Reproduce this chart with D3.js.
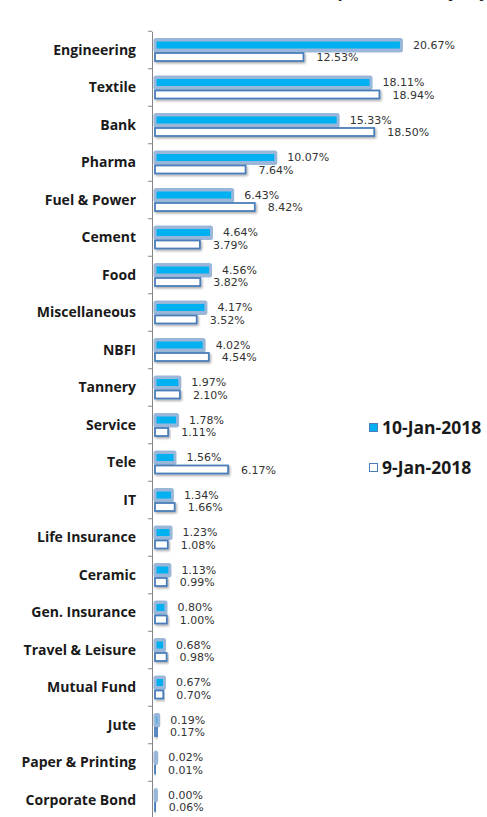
<!DOCTYPE html>
<html><head><meta charset="utf-8">
<script src="https://cdn.jsdelivr.net/npm/d3@7"></script>
<style>html,body{margin:0;padding:0;background:#fff;overflow:hidden}</style>
</head><body>
<svg id="chart" width="487" height="817"></svg>
<script>
const categories = ["Engineering","Textile","Bank","Pharma","Fuel & Power","Cement","Food","Miscellaneous","NBFI","Tannery","Service","Tele","IT","Life Insurance","Ceramic","Gen. Insurance","Travel & Leisure","Mutual Fund","Jute","Paper & Printing","Corporate Bond"];
const jan10 = [20.67,18.11,15.33,10.07,6.43,4.64,4.56,4.17,4.02,1.97,1.78,1.56,1.34,1.23,1.13,0.80,0.68,0.67,0.19,0.02,0.00];
const jan9  = [12.53,18.94,18.50,7.64,8.42,3.79,3.82,3.52,4.54,2.10,1.11,6.17,1.66,1.08,0.99,1.00,0.98,0.70,0.17,0.01,0.06];
const seriesNames = ["10-Jan-2018","9-Jan-2018"];
const title = "Sector-wise Turnover Composition (%) (y-o-y)";

const svg = d3.select("#chart");
const defs = svg.append("defs");
const f = defs.append("filter").attr("id","sh").attr("x","-10%").attr("y","-40%").attr("width","130%").attr("height","200%");
f.append("feDropShadow").attr("dx",1.2).attr("dy",1.5).attr("stdDeviation",0.9).attr("flood-color","#000").attr("flood-opacity",0.35);

const x = d3.scaleLinear().domain([0,22]).range([155,415.7]);
const y = d3.scaleBand().domain(categories).range([31.25,818.75]).padding(0);
const c = d => y(d) + y.bandwidth()/2;

// title (almost entirely above the visible area, as in the reference)
svg.append("text").attr("x",305).attr("y",-3).attr("text-anchor","middle")
  .style("font-family","'Open Sans', sans-serif").style("font-weight","bold").style("font-size","17px")
  .attr("fill","#222").text(title);

// axis
const axis = d3.axisLeft(y).tickSize(0).tickFormat("");
const gA = svg.append("g").attr("transform","translate(152,0)").call(axis);
gA.select(".domain").attr("stroke","#868686").attr("stroke-width",1);
gA.selectAll(".tick").remove();
const bounds = d3.range(categories.length+1).map(i => y.range()[0] + i*y.step());
svg.append("g").selectAll("line").data(bounds).join("line")
  .attr("x1",148).attr("x2",152).attr("y1",d=>d).attr("y2",d=>d)
  .attr("stroke","#868686").attr("stroke-width",1);

// category labels
svg.append("g").selectAll("text").data(categories).join("text")
  .attr("x",136).attr("y",d=>c(d)).attr("dy","0.35em").attr("text-anchor","end")
  .style("font-family","'Open Sans', sans-serif").style("font-weight","bold").style("font-size","14px")
  .attr("fill","#1a1a1a").text(d=>d);

const data = categories.map((k,i)=>({k, a:jan10[i], b:jan9[i]}));

// 10-Jan bars: glow + fill
const gB = svg.append("g");
gB.selectAll("rect.glow").data(data).join("rect").attr("class","glow")
  .attr("x",x(0)-1.5).attr("y",d=>c(d.k)-12).attr("width",d=>x(d.a)-x(0)+4.5).attr("height",14.5)
  .attr("rx",2.5).attr("fill","#95b3d7").attr("opacity",0.95);
gB.selectAll("rect.fill").data(data).join("rect").attr("class","fill")
  .attr("x",x(0)+1.5).attr("y",d=>c(d.k)-8.5).attr("width",d=>Math.max(0,x(d.a)-x(0)-1.5)).attr("height",7)
  .attr("fill","#00b0f0");

// 9-Jan bars
svg.append("g").selectAll("rect").data(data).join("rect")
  .attr("x",x(0)).attr("y",d=>c(d.k)+3).attr("width",d=>x(d.b)-x(0)).attr("height",8)
  .attr("fill","#fff").attr("stroke","#4a7ebb").attr("stroke-width",1.8).attr("filter","url(#sh)");

// value labels
const lab = svg.append("g").style("font-family","'DejaVu Sans', Verdana, sans-serif").style("font-size","11px").attr("fill","#333");
lab.selectAll("text.a").data(data).join("text").attr("class","a")
  .attr("x",d=>x(d.a)+13).attr("y",d=>c(d.k)-5).attr("dy","0.35em").text(d=>d.a.toFixed(2)+"%");
lab.selectAll("text.b").data(data).join("text").attr("class","b")
  .attr("x",d=>x(d.b)+13).attr("y",d=>c(d.k)+7.2).attr("dy","0.35em").text(d=>d.b.toFixed(2)+"%");

// legend
const leg = svg.append("g");
leg.append("rect").attr("x",369.5).attr("y",423.5).attr("width",8).attr("height",8).attr("fill","#00b0f0").attr("stroke","#4a7ebb").attr("stroke-width",1);
leg.append("rect").attr("x",369.5).attr("y",463.5).attr("width",8).attr("height",8).attr("fill","#fff").attr("stroke","#4a7ebb").attr("stroke-width",1);
leg.selectAll("text").data(seriesNames).join("text")
  .attr("x",382).attr("y",(d,i)=>428+i*40).attr("dy","0.35em")
  .style("font-family","'Open Sans', sans-serif").style("font-weight","bold").style("font-size","17.5px")
  .attr("fill","#1a1a1a").text(d=>d);
</script>
</body></html>
